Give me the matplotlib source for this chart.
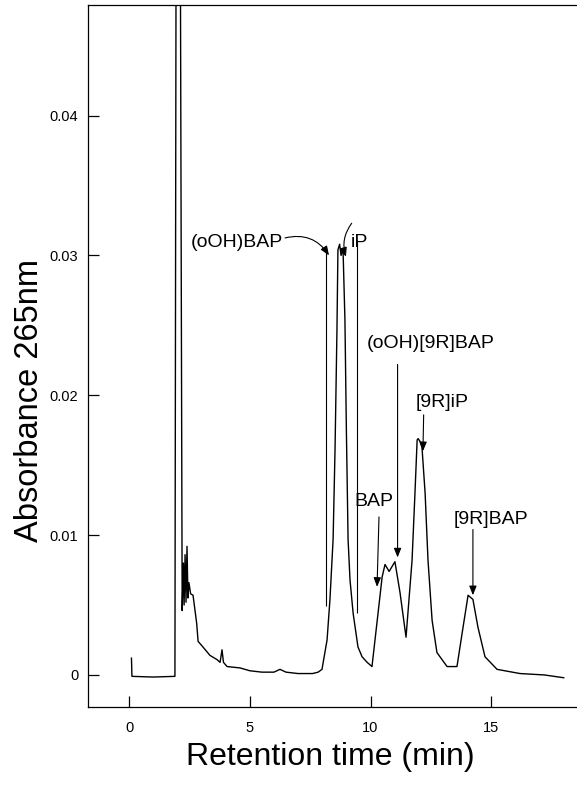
import matplotlib.pyplot as plt
from matplotlib.ticker import FuncFormatter

plt.rcParams['font.family'] = ['Liberation Sans', 'DejaVu Sans']

# chromatogram trace (min, absorbance at 265 nm)
time_min = [0.10, 0.12, 1.00, 1.90, 1.95, 2.12, 2.20, 2.25, 2.28, 2.32,
            2.36, 2.40, 2.44, 2.48, 2.55, 2.65, 2.80, 2.86, 3.06, 3.35,
            3.64, 3.77, 3.85, 3.91, 4.06, 4.60, 5.00, 5.50, 6.00, 6.25,
            6.50, 7.00, 7.60, 7.83, 7.99, 8.20, 8.32, 8.45, 8.53, 8.61,
            8.65, 8.72, 8.78, 8.86, 8.94, 9.00, 9.07, 9.15, 9.28, 9.48,
            9.65, 9.86, 10.06, 10.31, 10.48, 10.60, 10.77, 11.01, 11.22, 11.47,
            11.72, 11.84, 11.93, 11.97, 12.05, 12.13, 12.26, 12.38, 12.55, 12.75,
            13.17, 13.58, 13.83, 14.04, 14.24, 14.45, 14.74, 15.24, 16.19, 17.20,
            18.00]
absorbance = [0.0012, -0.0001, -0.00015, -0.0001, 0.055, 0.055, 0.0046, 0.0080, 0.0050, 0.0086,
              0.0052, 0.0092, 0.0055, 0.0066, 0.0058, 0.0057, 0.0037, 0.0024, 0.0020, 0.0014,
              0.0011, 0.0009, 0.0018, 0.0009, 0.0006, 0.0005, 0.0003, 0.0002, 0.0002, 0.0004,
              0.0002, 0.0001, 0.0001, 0.0002, 0.0004, 0.0025, 0.0054, 0.0097, 0.0161, 0.0247,
              0.0304, 0.0308, 0.0300, 0.0305, 0.0254, 0.0175, 0.0097, 0.0068, 0.0044, 0.0020,
              0.0013, 0.0009, 0.0006, 0.0044, 0.0070, 0.0079, 0.0074, 0.0081, 0.0059, 0.0027,
              0.0082, 0.0130, 0.0168, 0.0169, 0.0167, 0.0163, 0.0130, 0.0082, 0.0039, 0.0016,
              0.0006, 0.0006, 0.0034, 0.0057, 0.0054, 0.0034, 0.0013, 0.0004, 0.0001, 0.0000,
              -0.0002]

# fraction marks drawn on the recorder trace
marker_times = [8.14, 9.44]
marker_low = [0.0049, 0.0044]
marker_high = [0.0306, 0.0311]

peak_labels = ['(oOH)BAP', 'iP', '(oOH)[9R]BAP', 'BAP', '[9R]iP', '[9R]BAP']

x_ticks = [0, 5, 10, 15]
y_ticks = [0, 0.01, 0.02, 0.03, 0.04]


fig = plt.figure(figsize=(5.77, 7.85), dpi=100)
ax = fig.add_axes([0.1525, 0.0994, 0.8475, 0.8943])

ax.plot(time_min, absorbance, color='black', lw=1.0)
ax.vlines(marker_times, marker_low, marker_high, color='black', lw=0.8)

ax.set_xlim(-1.70, 18.55)
ax.set_ylim(-0.00229, 0.04791)

ax.spines['right'].set_visible(False)
for s in ['left', 'top', 'bottom']:
    ax.spines[s].set_linewidth(0.9)

ax.set_xticks(x_ticks)
ax.set_yticks(y_ticks)
ax.yaxis.set_major_formatter(FuncFormatter(lambda v, p: '0' if v == 0 else f'{v:.2f}'))
ax.tick_params(axis='x', direction='in', length=8, width=0.9, pad=10, labelsize=10.5)
ax.tick_params(axis='y', direction='in', length=8, width=0.9, pad=7, labelsize=10.5)

ax.set_xlabel('Retention time (min)', fontsize=23)
ax.xaxis.label.set_va('center')
ax.xaxis.set_label_coords(0.495, -0.071)
ax.set_ylabel('Absorbance 265nm', fontsize=23.5)
ax.yaxis.label.set_va('center')
ax.yaxis.set_label_coords(-0.119, 0.437)

# peak labels and arrows
arrow = dict(arrowstyle='-|>,head_length=0.55,head_width=0.22', color='black',
             lw=0.8, shrinkA=0, shrinkB=0)

ax.text(4.45, 0.0309, peak_labels[0], ha='center', va='center', fontsize=14)
ax.annotate('', xy=(8.28, 0.0300), xytext=(6.46, 0.03125),
            arrowprops=dict(arrow, connectionstyle='arc3,rad=-0.35'))

ax.text(9.55, 0.0309, peak_labels[1], ha='center', va='center', fontsize=14)
ax.annotate('', xy=(8.98, 0.0299), xytext=(9.22, 0.0323),
            arrowprops=dict(arrow, connectionstyle='arc3,rad=0.25'))

ax.text(12.5, 0.0237, peak_labels[2], ha='center', va='center', fontsize=14)
ax.annotate('', xy=(11.12, 0.0084), xytext=(11.12, 0.0222), arrowprops=arrow)

ax.text(10.12, 0.01237, peak_labels[3], ha='center', va='center', fontsize=14)
ax.annotate('', xy=(10.27, 0.0063), xytext=(10.35, 0.0113), arrowprops=arrow)

ax.text(12.96, 0.01945, peak_labels[4], ha='center', va='center', fontsize=14)
ax.annotate('', xy=(12.17, 0.0160), xytext=(12.20, 0.0186), arrowprops=arrow)

ax.text(14.99, 0.0111, peak_labels[5], ha='center', va='center', fontsize=14)
ax.annotate('', xy=(14.24, 0.0057), xytext=(14.24, 0.0104), arrowprops=arrow)

plt.savefig('out.png', dpi=100)
